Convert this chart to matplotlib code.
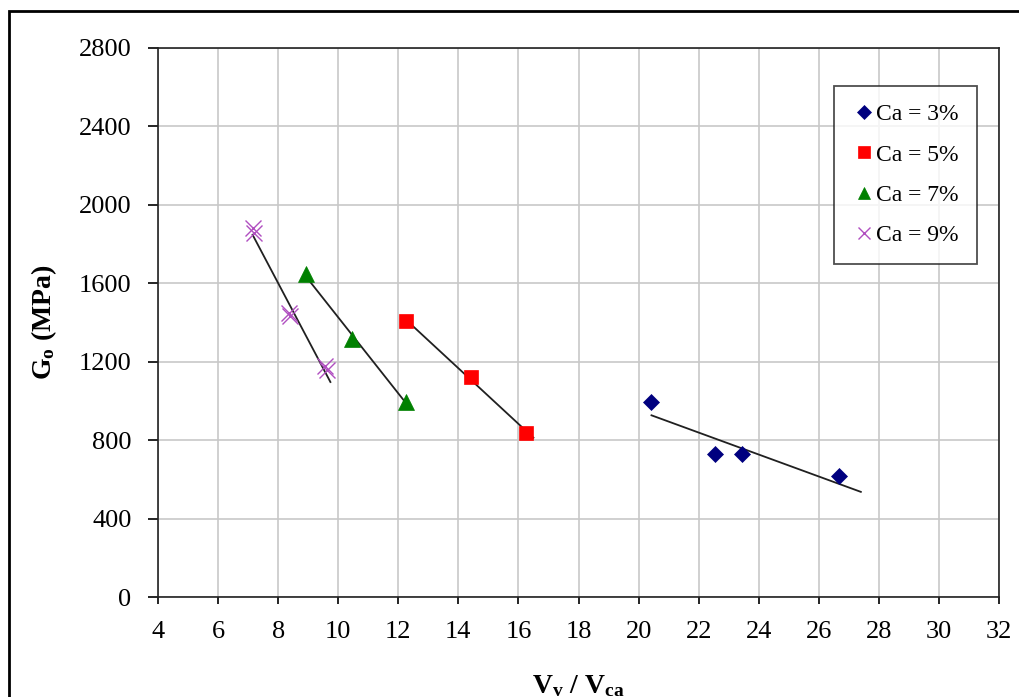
import numpy as np
import matplotlib
matplotlib.use("Agg")
import matplotlib.pyplot as plt
from matplotlib.patches import Rectangle

plt.rcParams["font.family"] = ["Liberation Serif", "DejaVu Serif"]
plt.rcParams["mathtext.fontset"] = "custom"
plt.rcParams["mathtext.rm"] = "Liberation Serif"
plt.rcParams["mathtext.it"] = "Liberation Serif:italic"
plt.rcParams["mathtext.bf"] = "Liberation Serif:bold"

# data
ca3_x = [20.43, 22.56, 23.45, 26.68]
ca3_y = [993, 729, 729, 617]
ca5_x = [12.25, 14.41, 16.26]
ca5_y = [1408, 1124, 838]
ca7_x = [8.92, 10.47, 12.27]
ca7_y = [1647, 1314, 996]
ca9_x = [7.15, 7.19, 8.35, 8.40, 9.55, 9.62]
ca9_y = [1880, 1856, 1446, 1432, 1180, 1156]

# extent of each linear trend line
trend_ends = {"3": (20.43, 27.4), "5": (12.25, 16.5), "7": (8.92, 12.27), "9": (7.15, 9.74)}

series = [
    ("3", ca3_x, ca3_y, "D", "#00007f", 8.5),
    ("5", ca5_x, ca5_y, "s", "#ff0000", 10),
    ("7", ca7_x, ca7_y, "^", "#008000", 11),
    ("9", ca9_x, ca9_y, "x", "#b04fc0", 11),
]

fig = plt.figure(figsize=(10.2, 6.97), dpi=100)
ax = fig.add_axes([158 / 1020, 1 - 597 / 697, (999 - 158) / 1020, (597 - 48) / 697])

for key, xs, ys, mk, col, ms in series:
    k, b = np.polyfit(xs, ys, 1)
    x0, x1 = trend_ends[key]
    tx = np.array([x0, x1])
    ax.plot(tx, k * tx + b, color="#202020", lw=1.3, zorder=3)
    ax.plot(xs, ys, linestyle="none", marker=mk, color=col, markersize=ms,
            markeredgewidth=1.0 if mk == "x" else 0.5, zorder=4,
            label=f"Ca = {key}%")

ax.set_xlim(4, 32)
ax.set_ylim(0, 2800)
ax.set_xticks(np.arange(4, 33, 2))
ax.set_yticks(np.arange(0, 2801, 400))
ax.grid(True, color="#c8c8c8", lw=1.2)
ax.set_axisbelow(True)
for s in ax.spines.values():
    s.set_color("#222222")
    s.set_linewidth(1.2)
ax.tick_params(axis="x", direction="out", length=5, width=1.2, pad=12, labelsize=19)
ax.tick_params(axis="y", direction="out", length=7, width=1.2, pad=12, labelsize=19)

ax.set_xlabel(r"$\mathbf{V_v}$ / $\mathbf{V_{ca}}$", fontsize=20, fontweight="bold", labelpad=22)
ax.set_ylabel(r"$\mathbf{G_o}$ (MPa)", fontsize=20, fontweight="bold", labelpad=14)

leg = ax.legend(loc="upper left", bbox_to_anchor=(834 / 1020, 1 - 86 / 697),
                bbox_transform=fig.transFigure, fontsize=17, frameon=True,
                fancybox=False, edgecolor="#222222", handlelength=1.0,
                handletextpad=0.05, labelspacing=0.8, borderpad=0.75,
                borderaxespad=0, markerscale=0.8)
leg.get_frame().set_linewidth(1.3)

fig.patches.append(Rectangle((9 / 1020, -0.1), 1.2, 1.1 - 11 / 697, transform=fig.transFigure,
                             fill=False, edgecolor="black", lw=2.0))

fig.savefig("out.png", dpi=100)
